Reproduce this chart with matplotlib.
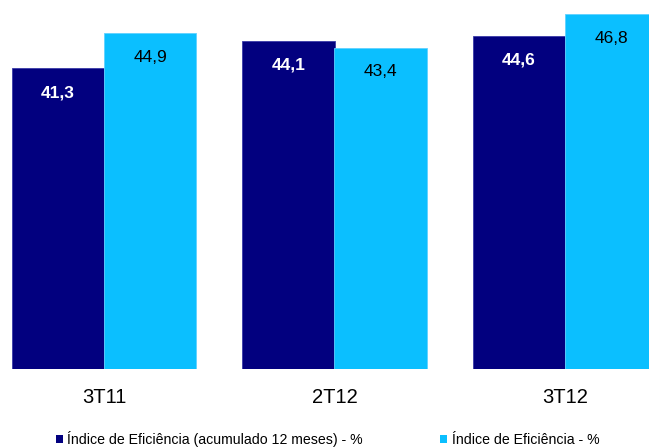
import matplotlib.pyplot as plt
import numpy as np
from matplotlib.patches import Patch

# trimestres e indices
trimestres = ["3T11", "2T12", "3T12"]
indice_acumulado = [41.3, 44.1, 44.6]
indice_trimestre = [44.9, 43.4, 46.8]

nome_acumulado = "Índice de Eficiência (acumulado 12 meses) - %"
nome_trimestre = "Índice de Eficiência - %"

cor_escura = "#02007f"
cor_clara = "#0bbfff"

plt.rcParams["font.family"] = ["Liberation Sans", "DejaVu Sans"]

fig = plt.figure(figsize=(6.49, 4.47), dpi=100)
ax = fig.add_axes([0, 78 / 447, 1, 369 / 447])

x = np.arange(len(trimestres))
largura = 0.4

barras_a = ax.bar(x - largura / 2, indice_acumulado, largura, color=cor_escura,
                  edgecolor="#3a3aa8", linewidth=0.6)
barras_t = ax.bar(x + largura / 2, indice_trimestre, largura, color=cor_clara,
                  edgecolor="#5fd2ff", linewidth=0.6)

# rotulos dentro das barras, perto do topo
for xi, v in zip(x - largura / 2, indice_acumulado):
    ax.annotate(f"{v:.1f}".replace(".", ","), (xi, v), xytext=(0, -17.5),
                textcoords="offset points", ha="center", va="center",
                fontsize=12.5, fontweight="bold", color="white")
for xi, v in zip(x + largura / 2, indice_trimestre):
    ax.annotate(f"{v:.1f}".replace(".", ","), (xi, v), xytext=(0, -17.5),
                textcoords="offset points", ha="center", va="center",
                fontsize=12.5, color="black")

ax.set_ylim(10.96, 48.2)
ax.set_xlim(-104 / 230.5, 545 / 230.5)
ax.set_yticks([])
ax.set_xticks(x)
ax.set_xticklabels(trimestres, fontsize=14.5)
ax.tick_params(axis="x", length=0, pad=14)
for lado in ax.spines.values():
    lado.set_visible(False)

handles = [Patch(facecolor=cor_escura), Patch(facecolor=cor_clara)]
fig.legend(handles, [nome_acumulado, nome_trimestre], loc="center left",
           bbox_to_anchor=(56 / 649, 8 / 447), ncol=2, frameon=False,
           fontsize=10.15, handlelength=0.5, handleheight=0.5,
           handletextpad=0.3, columnspacing=5.5, borderpad=0, borderaxespad=0)

fig.savefig("out.png", dpi=100)
